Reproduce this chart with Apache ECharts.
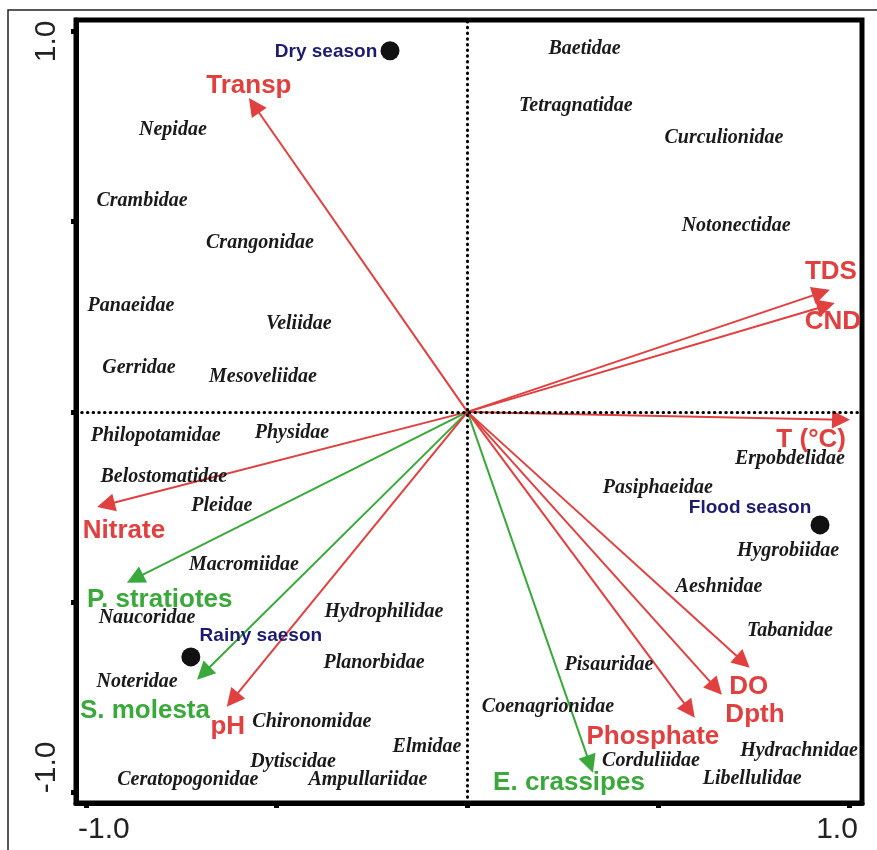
<!DOCTYPE html>
<html>
<head>
<meta charset="utf-8">
<script src="https://cdn.jsdelivr.net/npm/echarts@6/dist/echarts.min.js"></script>
<style>
html, body { margin: 0; padding: 0; background: #fff; }
#main { width: 877px; height: 850px; }
</style>
</head>
<body>
<div id="main"></div>
<script>
// 物种得分
var taxa = ['Baetidae', 'Tetragnatidae', 'Curculionidae', 'Notonectidae', 'Nepidae', 'Crambidae',
    'Crangonidae', 'Panaeidae', 'Veliidae', 'Gerridae', 'Mesoveliidae', 'Philopotamidae', 'Physidae',
    'Belostomatidae', 'Pleidae', 'Macromiidae', 'Naucoridae', 'Hydrophilidae', 'Planorbidae',
    'Noteridae', 'Chironomidae', 'Elmidae', 'Dytiscidae', 'Ceratopogonidae', 'Ampullariidae',
    'Erpobdelidae', 'Pasiphaeidae', 'Hygrobiidae', 'Aeshnidae', 'Tabanidae', 'Pisauridae',
    'Coenagrionidae', 'Corduliidae', 'Hydrachnidae', 'Libellulidae'];
var taxaX = [0.307, 0.284, 0.672, 0.704, -0.772, -0.853, -0.544, -0.882, -0.442, -0.861, -0.536,
    -0.817, -0.460, -0.796, -0.644, -0.586, -0.840, -0.219, -0.245, -0.866, -0.408, -0.106, -0.457,
    -0.733, -0.261, 0.845, 0.499, 0.840, 0.659, 0.845, 0.371, 0.211, 0.481, 0.869, 0.746];
var taxaY = [0.954, 0.804, 0.720, 0.489, 0.741, 0.555, 0.444, 0.279, 0.231, 0.116, 0.092,
    -0.063, -0.055, -0.171, -0.247, -0.402, -0.541, -0.526, -0.660, -0.710, -0.815, -0.880, -0.920,
    -0.967, -0.967, -0.124, -0.200, -0.365, -0.460, -0.576, -0.665, -0.775, -0.917, -0.891, -0.965];

// 环境因子箭头
var envNames = ['Transp', 'TDS', 'CND', 'T (°C)', 'Nitrate', 'P. stratiotes', 'S. molesta', 'pH',
    'E. crassipes', 'Phosphate', 'Dpth', 'DO'];
var envX = [-0.573, 0.950, 0.963, 1.003, -0.971, -0.893, -0.709, -0.631, 0.329, 0.596, 0.667, 0.740];
var envY = [0.825, 0.321, 0.286, -0.021, -0.250, -0.449, -0.704, -0.775, -0.949, -0.804, -0.744, -0.673];
var envGroup = ['water', 'water', 'water', 'water', 'water', 'plant', 'plant', 'water',
    'plant', 'water', 'water', 'water'];

// 季节
var siteNames = ['Dry season', 'Flood season', 'Rainy saeson'];
var siteX = [-0.203, 0.924, -0.725];
var siteY = [0.949, -0.297, -0.644];

var tickValues = [-1, -0.5, 0, 0.5, 1];
var labelValues = [-1, 1];

// 样式
var RED = '#e0403f';
var GREEN = '#3aa83a';
var HEAD = 0.024; // 箭头半长（数据单位），让三角形尖端落在端点上
var envLabelOffset = [[0, -12], [1, -18], [-2, 19], [-39, 20], [27, 24], [33, 17], [-52, 31],
    [1, 20], [-24, 10], [-42, 19], [33, 20], [-1, 19]];
var siteLabelOffset = [[-64, 1], [-70, -17], [70, -21]];

var myChart = echarts.init(document.getElementById('main'));

var arrowData = envNames.map(function (n, i) {
    var c = envGroup[i] === 'plant' ? GREEN : RED;
    var len = Math.sqrt(envX[i] * envX[i] + envY[i] * envY[i]);
    var k = (len - HEAD) / len;
    return {
        name: n,
        coords: [[0, 0], [envX[i] * k, envY[i] * k]],
        lineStyle: { color: c }
    };
});

var envLabelData = envNames.map(function (n, i) {
    var c = envGroup[i] === 'plant' ? GREEN : RED;
    return {
        name: n,
        value: [envX[i], envY[i]],
        label: { offset: envLabelOffset[i], color: c }
    };
});

var taxaData = taxa.map(function (n, i) {
    return { name: n, value: [taxaX[i], taxaY[i]] };
});

var siteData = siteNames.map(function (n, i) {
    return { name: n, value: [siteX[i], siteY[i]], label: { offset: siteLabelOffset[i] } };
});

var axisFont = { fontSize: 30, fontFamily: 'Liberation Sans', color: '#222' };

var option = {
    animation: false,
    backgroundColor: '#fff',
    graphic: [{
        type: 'rect',
        shape: { x: 8, y: 10, width: 900, height: 900 },
        style: { fill: 'none', stroke: '#222', lineWidth: 1.5 },
        silent: true
    }],
    grid: {
        left: 76, right: 15, top: 20, bottom: 47,
        show: true,
        borderColor: '#000',
        borderWidth: 5
    },
    xAxis: {
        type: 'value',
        min: -1.026,
        max: 1.034,
        splitLine: { show: false },
        axisLine: { show: true, onZero: false, lineStyle: { color: '#000', width: 5 } },
        axisTick: {
            show: true,
            customValues: tickValues,
            length: 5,
            lineStyle: { color: '#000', width: 5 }
        },
        axisLabel: {
            show: true,
            customValues: labelValues,
            margin: 12,
            fontSize: 30,
            fontFamily: 'Liberation Sans',
            color: '#222',
            formatter: function (v) {
                return v < 0 ? '{l|-1.0}' : '{r|1.0}';
            },
            rich: {
                l: Object.assign({ padding: [0, 0, 0, 36] }, axisFont),
                r: Object.assign({ padding: [0, 24, 0, 0] }, axisFont)
            }
        }
    },
    yAxis: {
        type: 'value',
        min: -1.028,
        max: 1.030,
        splitLine: { show: false },
        axisLine: { show: true, onZero: false, lineStyle: { color: '#000', width: 5 } },
        axisTick: {
            show: true,
            customValues: tickValues,
            length: 5,
            lineStyle: { color: '#000', width: 5 }
        },
        axisLabel: {
            show: true,
            customValues: labelValues,
            rotate: 90,
            margin: 14,
            fontSize: 30,
            fontFamily: 'Liberation Sans',
            color: '#222',
            formatter: function (v) {
                return v < 0 ? '{l|-1.0}' : '{r|1.0}';
            },
            rich: {
                l: Object.assign({ padding: [0, 0, 0, 50] }, axisFont),
                r: Object.assign({ padding: [0, 20, 0, 0] }, axisFont)
            }
        }
    },
    series: [
        {
            // 零线（点线）
            type: 'scatter',
            data: [],
            silent: true,
            markLine: {
                silent: true,
                symbol: 'none',
                label: { show: false },
                lineStyle: { color: '#000', width: 3, type: [0.5, 5.2], cap: 'round' },
                data: [{ xAxis: 0 }, { yAxis: 0 }]
            }
        },
        {
            name: 'arrows',
            type: 'lines',
            coordinateSystem: 'cartesian2d',
            silent: true,
            z: 3,
            symbol: ['none', 'triangle'],
            symbolSize: [14, 18],
            lineStyle: { width: 2, opacity: 1 },
            data: arrowData
        },
        {
            name: 'envLabels',
            type: 'scatter',
            silent: true,
            z: 4,
            symbolSize: 1,
            itemStyle: { color: 'rgba(0,0,0,0)', opacity: 1 },
            label: {
                show: true,
                position: 'inside',
                formatter: '{b}',
                fontSize: 26,
                fontWeight: 'bold',
                fontFamily: 'Liberation Sans'
            },
            data: envLabelData
        },
        {
            name: 'taxa',
            type: 'scatter',
            silent: true,
            z: 5,
            symbolSize: 1,
            itemStyle: { color: 'rgba(0,0,0,0)', opacity: 1 },
            label: {
                show: true,
                position: 'inside',
                formatter: '{b}',
                fontSize: 20,
                fontStyle: 'italic',
                fontWeight: 'bold',
                fontFamily: 'Liberation Serif',
                color: '#1a1a1a'
            },
            data: taxaData
        },
        {
            name: 'seasons',
            type: 'scatter',
            silent: true,
            z: 6,
            symbol: 'circle',
            symbolSize: 19,
            itemStyle: { color: '#111', opacity: 1 },
            label: {
                show: true,
                position: 'inside',
                formatter: '{b}',
                fontSize: 19,
                fontWeight: 'bold',
                fontFamily: 'Liberation Sans',
                color: '#1c1c6e'
            },
            data: siteData
        }
    ]
};

myChart.setOption(option);
</script>
</body>
</html>
